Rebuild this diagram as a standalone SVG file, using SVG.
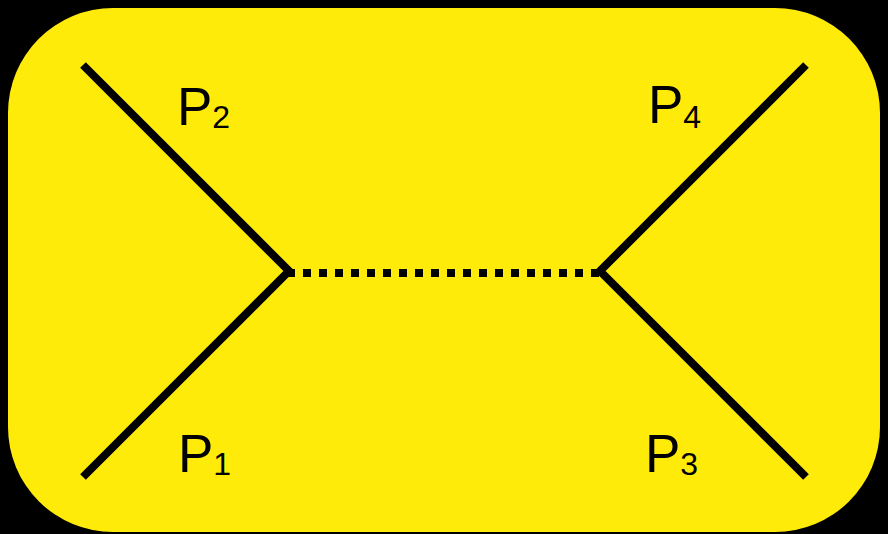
<svg xmlns="http://www.w3.org/2000/svg" width="888" height="534" viewBox="0 0 888 534">
<style>
.ln{fill:none;stroke:#000;stroke-width:8;stroke-linecap:butt;stroke-linejoin:miter}
.dot{fill:none;stroke:#000;stroke-width:8;stroke-dasharray:8 8}
.lbl{font-family:"Liberation Sans",Arial,sans-serif;font-size:53px;fill:#000}
.sub{font-size:32px}
</style>
<rect x="0" y="0" width="888" height="534" fill="#000"/>
<rect id="background" x="8" y="8" width="872" height="524" rx="105" ry="105" fill="#FFEB0A"/>
<g id="connectors">
<polyline class="ln" points="83,65 289,271 83,477"/>
<polyline class="ln" points="806,65 600,271 806,477"/>
<line class="dot" x1="287" y1="273" x2="600" y2="273"/>
</g>
<g id="P2"><text class="lbl" x="177" y="125">P<tspan class="sub" y="128">2</tspan></text></g>
<g id="P1"><text class="lbl" x="178" y="472">P<tspan class="sub" y="475">1</tspan></text></g>
<g id="P4"><text class="lbl" x="648" y="123">P<tspan class="sub" y="128">4</tspan></text></g>
<g id="P3"><text class="lbl" x="645" y="472">P<tspan class="sub" y="475">3</tspan></text></g>
</svg>
